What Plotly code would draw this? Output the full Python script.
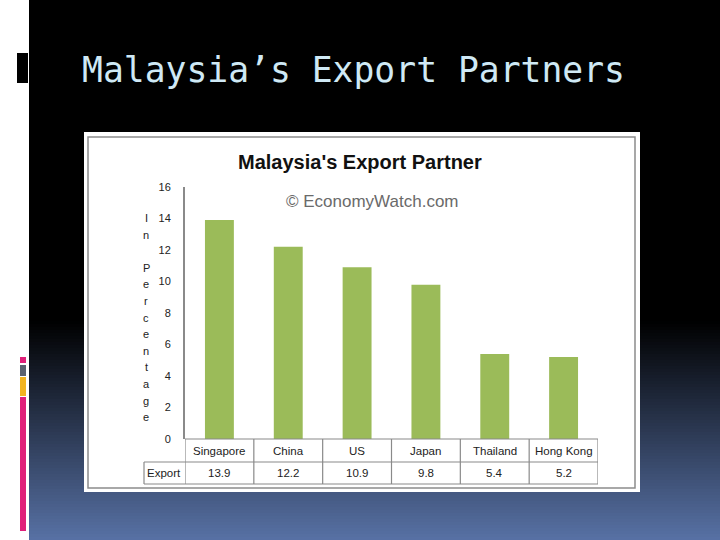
import plotly.graph_objects as go

# ---- data ----
partners = ["Singapore", "China", "US", "Japan", "Thailand", "Hong Kong"]
export_share = [13.9, 12.2, 10.9, 9.8, 5.4, 5.2]
y_ticks = [0, 2, 4, 6, 8, 10, 12, 14, 16]
row_label = "Export"
slide_title = "Malaysia\u2019s Export Partners"
chart_title = "Malaysia's Export Partner"
watermark = "\u00a9 EconomyWatch.com"
y_title = "In Percentage"

W, H = 720, 540


def px(x):
    return x / W


def py(y):
    return 1 - y / H


shapes = []
# slide background gradient (black -> blue)
step = 3
for y in range(0, H, step):
    t = max(0.0, (y - 320) / (H - 320))
    c = f"rgb({round(88 * t)},{round(114 * t)},{round(166 * t)})"
    shapes.append(dict(type="rect", xref="paper", yref="paper", layer="below",
                       x0=px(29), x1=1, y0=py(min(H, y + step + 1)), y1=py(y),
                       fillcolor=c, line=dict(width=0)))
# white left strip
shapes.append(dict(type="rect", xref="paper", yref="paper", layer="below",
                   x0=0, x1=px(29), y0=0, y1=1, fillcolor="white", line=dict(width=0)))
# black block near title
shapes.append(dict(type="rect", xref="paper", yref="paper", layer="below",
                   x0=px(17), x1=px(28), y0=py(83), y1=py(53), fillcolor="black", line=dict(width=0)))
# coloured markers
for (a, b, col) in [(357, 363, "#e0207a"), (365, 376, "#5b6270"),
                    (377, 396, "#f2b420"), (397, 531, "#e0207a")]:
    shapes.append(dict(type="rect", xref="paper", yref="paper", layer="below",
                       x0=px(20), x1=px(26), y0=py(b), y1=py(a), fillcolor=col, line=dict(width=0)))
# chart picture: white box + grey frame
shapes.append(dict(type="rect", xref="paper", yref="paper", layer="below",
                   x0=px(84), x1=px(640), y0=py(492), y1=py(132), fillcolor="white", line=dict(width=0)))
shapes.append(dict(type="rect", xref="paper", yref="paper", layer="below",
                   x0=px(88), x1=px(635), y0=py(488), y1=py(137), fillcolor="rgba(0,0,0,0)",
                   line=dict(color="#8c8c8c", width=1.5)))

# data table grid
grid = dict(color="#8a8a8a", width=1.2)
n = len(partners)
row_top, row_mid, row_bot = 439, 462, 484
shapes.append(dict(type="line", xref="x", yref="paper", x0=-0.5, x1=n - 0.5,
                   y0=py(row_top), y1=py(row_top), line=grid))
for yy in (row_mid, row_bot):
    shapes.append(dict(type="line", xref="paper", yref="paper", x0=px(144), x1=px(598),
                       y0=py(yy), y1=py(yy), line=grid))
for i in range(n + 1):
    shapes.append(dict(type="line", xref="x", yref="paper", x0=i - 0.5, x1=i - 0.5,
                       y0=py(row_top), y1=py(row_bot), line=grid))
shapes.append(dict(type="line", xref="paper", yref="paper", x0=px(144), x1=px(144),
                   y0=py(row_mid), y1=py(row_bot), line=grid))

FONT = "Liberation Sans, Arial, sans-serif"
tfont = dict(family=FONT, size=11.5, color="#222")
C = dict(xanchor="center", yanchor="middle", showarrow=False)
annotations = []
for cat, val in zip(partners, export_share):
    annotations.append(dict(x=cat, xref="x", y=py((row_top + row_mid) / 2), yref="paper",
                            text=cat, font=tfont, **C))
    annotations.append(dict(x=cat, xref="x", y=py((row_mid + row_bot) / 2), yref="paper",
                            text=f"{val}", font=tfont, **C))
annotations.append(dict(x=px(164), xref="paper", y=py((row_mid + row_bot) / 2), yref="paper",
                        text=row_label, font=tfont, **C))

# vertical stacked y title
for k, ch in enumerate(y_title):
    if ch == " ":
        continue
    annotations.append(dict(x=px(146), xref="paper", y=py(218 + k * 16.6), yref="paper",
                            text=ch, font=dict(family=FONT, size=11, color="#222"), **C))

annotations += [
    dict(x=px(80), xref="paper", y=py(70), yref="paper", xanchor="left", yanchor="middle",
         text=slide_title, showarrow=False,
         font=dict(family="DejaVu Sans Mono, monospace", size=34.7, color="#cfe9f5")),
    dict(x=px(360), xref="paper", y=py(162), yref="paper", text=f"<b>{chart_title}</b>",
         font=dict(family=FONT, size=20, color="#111"), **C),
    dict(x=px(372), xref="paper", y=py(202), yref="paper", text=watermark,
         font=dict(family=FONT, size=17, color="#6a6a6a"), **C),
]

fig = go.Figure(go.Bar(x=partners, y=export_share, marker=dict(color="#9bbb59", line=dict(width=0)),
                       hoverinfo="skip"))

fig.update_layout(
    width=W, height=H, margin=dict(l=0, r=0, t=0, b=0, pad=0, autoexpand=False),
    paper_bgcolor="black", plot_bgcolor="rgba(0,0,0,0)",
    showlegend=False, bargap=0.58,
    shapes=shapes, annotations=annotations,
    xaxis=dict(domain=[px(185), px(598)], range=[-0.5, n - 0.5], showticklabels=False,
               showgrid=False, zeroline=False, showline=False, ticks="", fixedrange=True,
               automargin=False),
    yaxis=dict(domain=[py(439), py(187)], range=[0, 16], tickvals=y_ticks,
               showgrid=False, zeroline=False, showline=True, linecolor="#8a8a8a", linewidth=2,
               ticks="", ticklabelstandoff=10, fixedrange=True, automargin=False,
               tickfont=dict(family=FONT, size=11, color="#222")),
)

fig.write_html(
    "out.html",
    config={"displayModeBar": False, "staticPlot": True},
    post_script=("document.documentElement.style.margin='0px';"
                 "document.documentElement.style.padding='0px';"
                 "document.body.style.margin='0px';document.body.style.padding='0px';"
                 "document.documentElement.style.overflow='hidden';"
                 "document.body.style.overflow='hidden';"),
)
